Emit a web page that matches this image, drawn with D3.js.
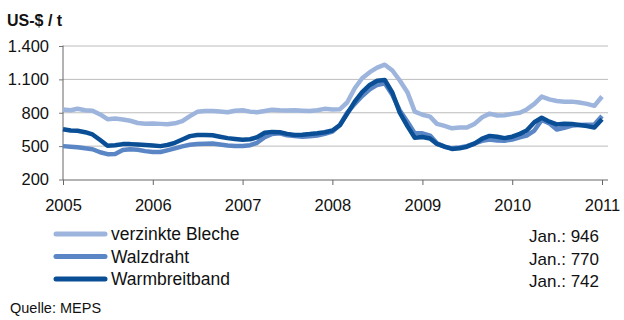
<!DOCTYPE html>
<html>
<head>
<meta charset="utf-8">
<script src="https://cdn.jsdelivr.net/npm/d3@7"></script>
<style>
  body { margin: 0; background: #fff; }
  svg { display: block; font-family: "Liberation Sans", Arial, sans-serif; }
</style>
</head>
<body>
<div id="chart"></div>
<script>
// monthly prices, Jan 2005 .. Jan 2011 (US-$ / t)
var startYear = 2005;
var yearTicks = [2005, 2006, 2007, 2008, 2009, 2010, 2011];
var yTicks = [200, 500, 800, 1100, 1400];
var seriesNames = ['verzinkte Bleche', 'Walzdraht', 'Warmbreitband'];

var verzinkte = [
  830, 822, 836, 822, 818, 785, 742, 748, 740, 728, 708, 702,
  703, 700, 697, 705, 725, 770, 808, 815, 815, 812, 805, 818,
  822, 810, 805, 815, 828, 822, 820, 822, 818, 815, 822, 835,
  830, 832, 892, 1020, 1110, 1165, 1205, 1232, 1180, 1090, 985, 810,
  782, 765, 700, 682, 660, 668, 668, 700, 760, 792, 775, 778,
  790, 800, 830, 880, 945, 920, 905, 898, 900, 892, 880, 862,
  946
];
var walzdraht = [
  500, 495, 490, 480, 472, 445, 428, 430, 465, 472, 468, 455,
  448, 447, 462, 480, 498, 512, 520, 522, 524, 515, 505, 502,
  502, 508, 530, 580, 610, 615, 598, 590, 585, 588, 595, 610,
  630, 690, 800, 880, 950, 1010, 1050, 1065, 960, 820, 720, 615,
  615, 595, 525, 495, 480, 488, 500, 525, 548, 560, 550, 548,
  560, 578, 595, 640, 735, 705, 650, 665, 685, 690, 692, 695,
  770
];
var warmbreitband = [
  652, 640, 638, 625, 605, 555, 503, 508, 518, 518, 515, 510,
  505, 500, 510, 530, 560, 590, 600, 600, 598, 585, 572, 565,
  558, 562, 580, 620, 628, 625, 610, 600, 603, 608, 615, 625,
  640, 690, 790, 900, 985, 1050, 1088, 1095, 980, 800, 680, 575,
  582, 568, 520, 495, 475, 480, 495, 522, 568, 592, 584, 572,
  585, 610, 640, 715, 755, 720, 695, 702, 698, 690, 680, 668,
  742
];

var colors = ['#9db5dd', '#5b86c5', '#0a4f96'];
var series = [verzinkte, walzdraht, warmbreitband];

var width = 624, height = 320;
var svg = d3.select('#chart').append('svg')
    .attr('width', width).attr('height', height);

var months = verzinkte.map(function(d, i) { return new Date(startYear, i, 1); });

var x = d3.scaleTime()
    .domain([new Date(startYear, 0, 1), new Date(2011, 0, 1)])
    .range([63, 602]);
var y = d3.scaleLinear().domain([200, 1400]).range([179.5, 46]);

var de = d3.formatLocale({decimal: ',', thousands: '.', grouping: [3], currency: ['', '']});
var fmt = de.format(',');

// gridlines
svg.append('g').selectAll('line')
  .data(yTicks.slice(1))
  .enter().append('line')
    .attr('x1', 63).attr('x2', 608)
    .attr('y1', function(d) { return y(d); })
    .attr('y2', function(d) { return y(d); })
    .style('stroke', '#bcbcbc')
    .style('stroke-width', 1);

// y axis
var gy = svg.append('g')
    .attr('transform', 'translate(63,0)')
    .call(d3.axisLeft(y).tickValues(yTicks).tickFormat(fmt).tickSize(4).tickPadding(10));
gy.select('.domain').remove();
gy.selectAll('.tick line').style('stroke', '#777');
gy.selectAll('text').style('font-size', '16.5px').style('fill', '#111');
svg.append('line')
    .attr('x1', 63).attr('x2', 63).attr('y1', 45.5).attr('y2', 180)
    .style('stroke', '#666').style('stroke-width', 1);

// x axis
var gx = svg.append('g')
    .attr('transform', 'translate(0,180)')
    .call(d3.axisBottom(x)
      .tickValues(yearTicks.map(function(yr) { return new Date(yr, 0, 1); }))
      .tickFormat(d3.timeFormat('%Y'))
      .tickSize(5).tickPadding(14));
gx.select('.domain').remove();
gx.selectAll('.tick line').style('stroke', '#666');
gx.selectAll('text').style('font-size', '16.5px').style('fill', '#111');
svg.append('line')
    .attr('x1', 63).attr('x2', 608).attr('y1', 180).attr('y2', 180)
    .style('stroke', '#666').style('stroke-width', 1);

// lines
var line = d3.line()
    .x(function(d, i) { return x(months[i]); })
    .y(function(d) { return y(d); });

series.forEach(function(s, k) {
  svg.append('path')
    .datum(s)
    .attr('d', line)
    .attr('fill', 'none')
    .style('stroke', colors[k])
    .style('stroke-width', 4.5)
    .style('stroke-linejoin', 'round')
    .style('stroke-linecap', 'butt');
});

// title
svg.append('text')
    .attr('x', 7).attr('y', 26)
    .style('font-size', '16px').style('font-weight', 'bold').style('fill', '#111')
    .text('US-$ / t');

// legend
var legend = svg.append('g');
seriesNames.forEach(function(name, k) {
  var ly = 234 + k * 22.5;
  legend.append('line')
    .attr('x1', 56).attr('x2', 105).attr('y1', ly).attr('y2', ly)
    .style('stroke', colors[k]).style('stroke-width', 5)
    .style('stroke-linecap', 'round');
  legend.append('text')
    .attr('x', 111).attr('y', ly + 6)
    .style('font-size', '17.5px').style('fill', '#111')
    .text(name);
  legend.append('text')
    .attr('x', 599).attr('y', ly + 8)
    .attr('text-anchor', 'end')
    .style('font-size', '17px').style('fill', '#111')
    .text('Jan.: ' + series[k][series[k].length - 1]);
});

svg.append('text')
    .attr('x', 10).attr('y', 313)
    .style('font-size', '14.5px').style('fill', '#111')
    .text('Quelle: MEPS');
</script>
</body>
</html>
